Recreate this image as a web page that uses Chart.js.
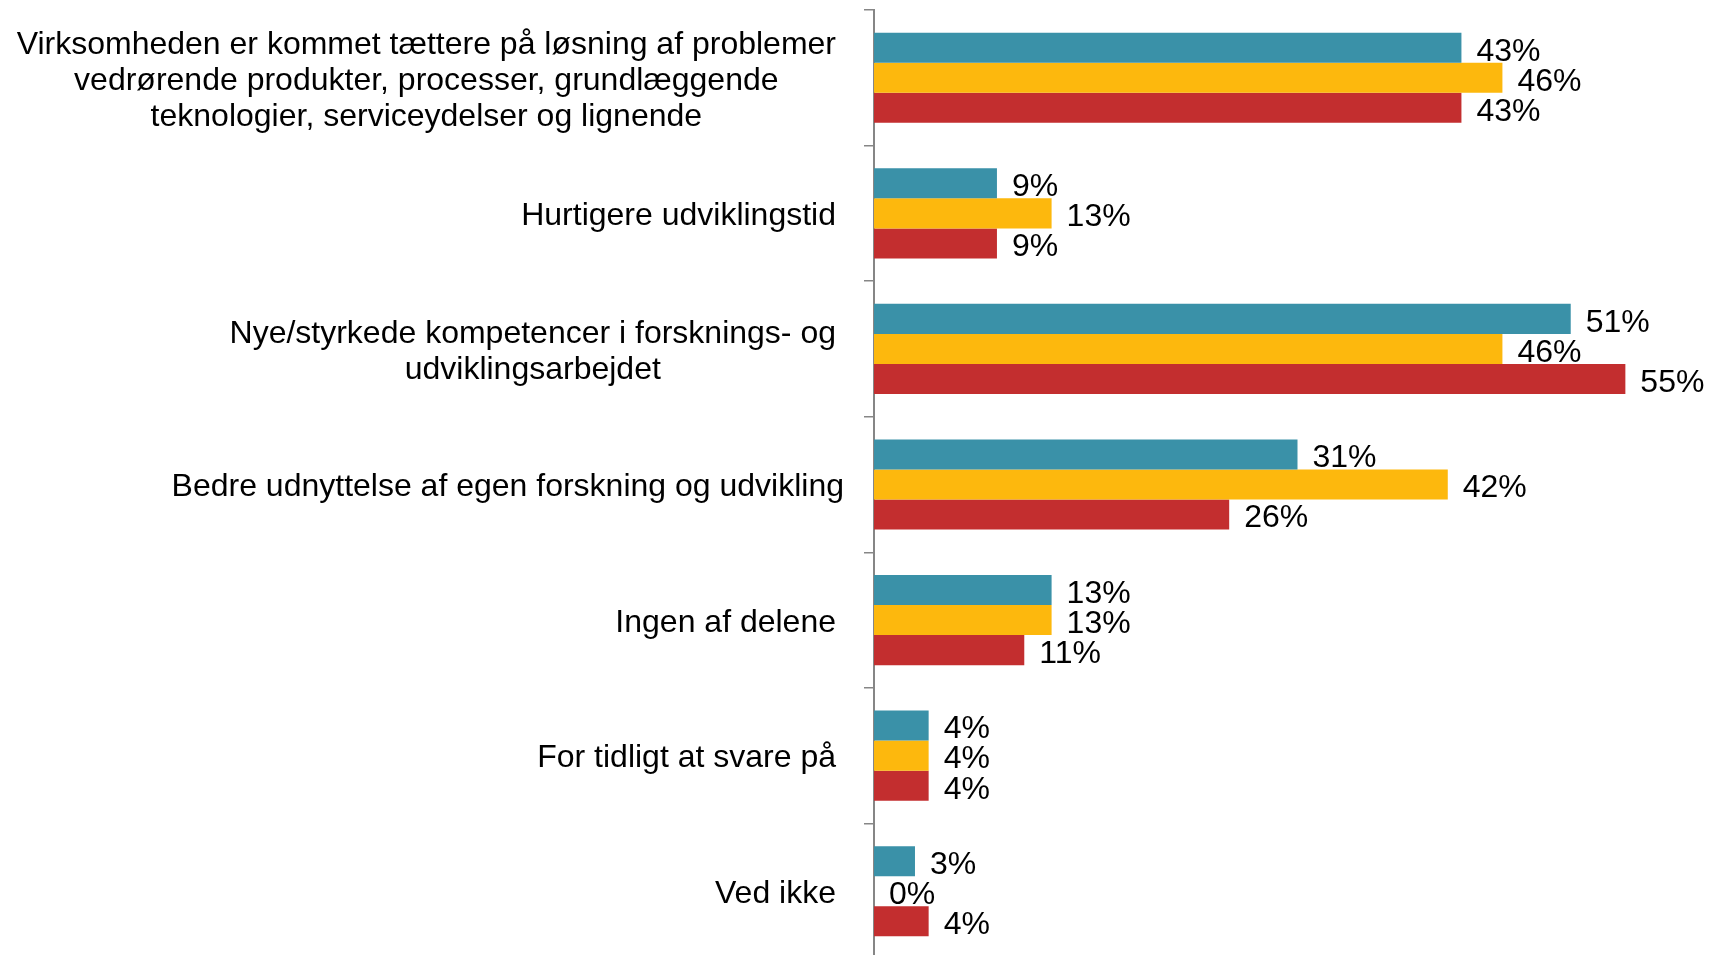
<!DOCTYPE html>
<html lang="da">
<head>
<meta charset="utf-8">
<title>Effekter af samarbejdet</title>
<script src="https://cdn.jsdelivr.net/npm/chart.js@4/dist/chart.umd.min.js"></script>
<style>
    html, body { margin: 0; padding: 0; background: #fff; }
    #wrap { width: 1721px; height: 955px; overflow: hidden; position: relative; }
    #wrap canvas { position: absolute; left: 0; top: 0; }
</style>
</head>
<body>
<div id="wrap">
    <canvas id="effectChart" width="1721" height="965"></canvas>
</div>
<script>
// Kategorier (flere linjer = brudt tekst)
const categories = [
    ['Virksomheden er kommet tættere på løsning af problemer',
     'vedrørende produkter, processer, grundlæggende',
     'teknologier, serviceydelser og lignende'],
    ['Hurtigere udviklingstid'],
    ['Nye/styrkede kompetencer i forsknings- og', 'udviklingsarbejdet'],
    ['Bedre udnyttelse af egen forskning og udvikling'],
    ['Ingen af delene'],
    ['For tidligt at svare på'],
    ['Ved ikke']
];

// Andele i procent for de tre grupper
const seriesA = [43, 9, 51, 31, 13, 4, 3];
const seriesB = [46, 13, 46, 42, 13, 4, 0];
const seriesC = [43, 9, 55, 26, 11, 4, 4];

const FONT = '32px "Liberation Sans", Arial, sans-serif';
const AXIS_LEFT = 874;
const LABEL_RIGHT = 836;
const LINE_HEIGHT = 36;

// Kategoritekster: linjer centreret i en boks der står højrestillet mod aksen
const categoryLabels = {
    id: 'categoryLabels',
    afterDraw(chart) {
        const ctx = chart.ctx;
        const yScale = chart.scales.y;
        ctx.save();
        ctx.font = FONT;
        ctx.fillStyle = '#000';
        ctx.textAlign = 'center';
        ctx.textBaseline = 'middle';
        categories.forEach((lines, i) => {
            const yMid = yScale.getPixelForValue(i) + 3;
            const boxW = Math.max(...lines.map(l => ctx.measureText(l).width));
            const right = i === 3 ? LABEL_RIGHT + 8 : LABEL_RIGHT;
            const cx = right - boxW / 2;
            lines.forEach((line, k) => {
                ctx.fillText(line, cx, yMid + (k - (lines.length - 1) / 2) * LINE_HEIGHT);
            });
        });
        ctx.restore();
    }
};

// Procenttal lige til højre for hver søjle
const valueLabels = {
    id: 'valueLabels',
    afterDatasetsDraw(chart) {
        const ctx = chart.ctx;
        ctx.save();
        ctx.font = FONT;
        ctx.fillStyle = '#000';
        ctx.textAlign = 'left';
        ctx.textBaseline = 'middle';
        chart.data.datasets.forEach((ds, di) => {
            chart.getDatasetMeta(di).data.forEach((bar, i) => {
                ctx.fillText(ds.data[i] + '%', bar.x + 15, bar.y + 4);
            });
        });
        ctx.restore();
    }
};

new Chart(document.getElementById('effectChart'), {
    type: 'bar',
    data: {
        labels: categories,
        datasets: [
            { label: 'A', data: seriesA, backgroundColor: '#3a91a8' },
            { label: 'B', data: seriesB, backgroundColor: '#fdb80d' },
            { label: 'C', data: seriesC, backgroundColor: '#c32e2f' }
        ]
    },
    options: {
        indexAxis: 'y',
        responsive: false,
        animation: false,
        categoryPercentage: 0.665,
        barPercentage: 1,
        layout: { padding: { top: 10, bottom: 6, left: 0, right: 0 } },
        plugins: {
            legend: { display: false },
            tooltip: { enabled: false }
        },
        scales: {
            x: {
                display: false,
                min: 0,
                max: 62
            },
            y: {
                ticks: { display: false },
                grid: {
                    drawOnChartArea: false,
                    drawTicks: true,
                    tickLength: 10,
                    color: '#868686',
                    lineWidth: 1.5
                },
                border: { display: true, color: '#868686', width: 2 },
                afterFit(scale) { scale.width = AXIS_LEFT; }
            }
        }
    },
    plugins: [categoryLabels, valueLabels]
});
</script>
</body>
</html>
